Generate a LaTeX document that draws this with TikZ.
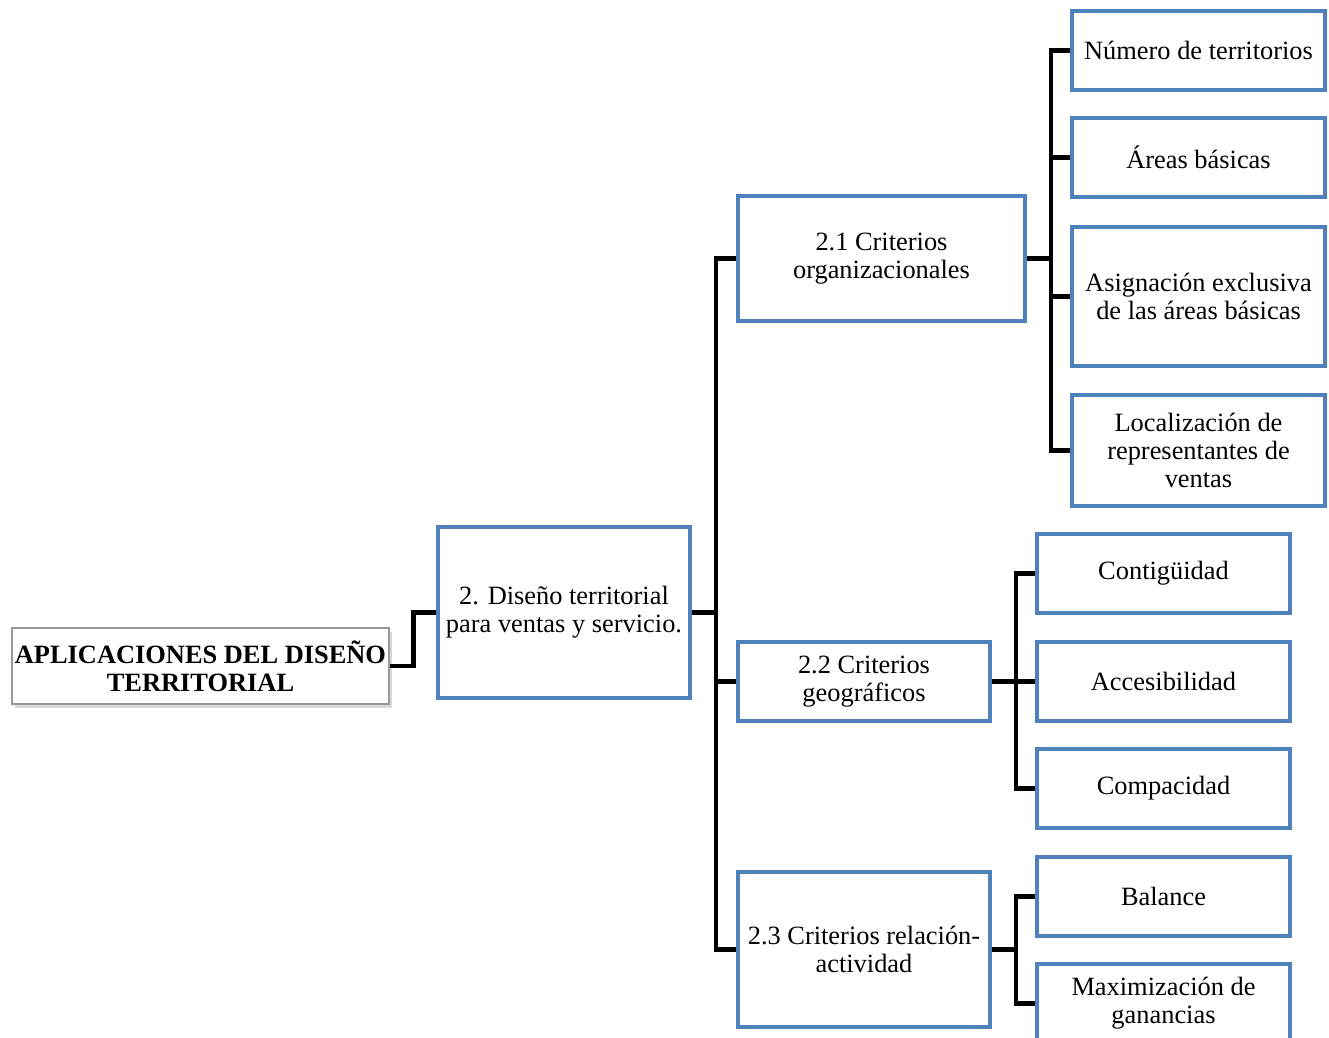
\documentclass[tikz,border=0pt]{standalone}
\usepackage{fontspec}
\setmainfont{Liberation Serif}
\usetikzlibrary{shadows}
\definecolor{boxblue}{RGB}{79,129,189}
\tikzset{
    boxsize/.style 2 args={minimum width=#1*0.5pt, minimum height=#2*0.5pt},
    mapbox/.style={draw=boxblue, line width=2pt, fill=white, align=center, inner sep=1pt,
        font=\fontsize{13.2}{14}\selectfont},
    rootbox/.style={draw=gray!80, line width=0.6pt, fill=white, align=center, inner sep=1pt,
        drop shadow={shadow xshift=1.5pt, shadow yshift=-2pt, fill=gray!60},
        font=\fontsize{13.2}{14}\selectfont\bfseries},
    mapline/.style={line width=2.2pt, black}
}

\begin{document}
\begin{tikzpicture}[x=0.5pt, y=-0.5pt]
    \useasboundingbox (0,0) rectangle (1329,1038);
    \begin{scope}
    \clip (0,0) rectangle (1329,1038);

    \node[rootbox, boxsize={377}{76}] (root) at (200.5,666) {APLICACIONES DEL DISEÑO\\TERRITORIAL};
    \node[mapbox, boxsize={252}{171}] (2) at (564,612.5) {2. Diseño territorial\\para ventas y servicio.};

    \node[mapbox, boxsize={287}{125}] (21) at (881.5,258.5) {2.1 Criterios\\organizacionales};
    \node[mapbox, boxsize={252}{79}] (22) at (864,681.5) {2.2 Criterios\\geográficos};
    \node[mapbox, boxsize={252}{155}] (23) at (864,949.5) {2.3 Criterios relación-\\actividad};

    \node[mapbox, boxsize={253}{79}] (211) at (1198.5,50.5) {Número de territorios};
    \node[mapbox, boxsize={253}{79}] (212) at (1198.5,157.5) {Áreas básicas};
    \node[mapbox, boxsize={253}{139}] (213) at (1198.5,296.5) {Asignación exclusiva\\de las áreas básicas};
    \node[mapbox, boxsize={253}{111}] (214) at (1198.5,450.5) {Localización de\\representantes de\\ventas};

    \node[mapbox, boxsize={253}{79}] (221) at (1163.5,573.5) {Contigüidad};
    \node[mapbox, boxsize={253}{79}] (222) at (1163.5,681.5) {Accesibilidad};
    \node[mapbox, boxsize={253}{79}] (223) at (1163.5,788.5) {Compacidad};

    \node[mapbox, boxsize={253}{79}] (231) at (1163.5,896.5) {Balance};
    \node[mapbox, boxsize={253}{79}] (232) at (1163.5,1003.5) {Maximización de\\ganancias};

    \draw[mapline] (root.east) -- ++(24,0) |- (2.west);
    \foreach \c in {21,22,23}
        \draw[mapline] (2.east) -- ++(24,0) |- (\c.west);
    \foreach \c in {211,212,213,214}
        \draw[mapline] (21.east) -- ++(24,0) |- (\c.west);
    \foreach \c in {221,222,223}
        \draw[mapline] (22.east) -- ++(24,0) |- (\c.west);
    \foreach \c in {231,232}
        \draw[mapline] (23.east) -- ++(24,0) |- (\c.west);
    \end{scope}
\end{tikzpicture}
\end{document}
